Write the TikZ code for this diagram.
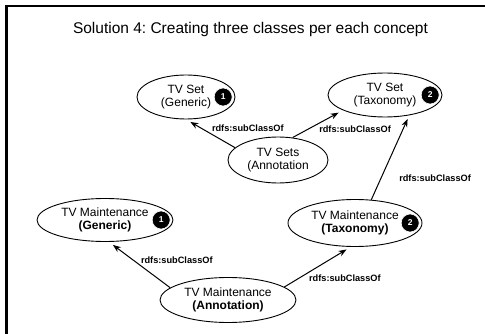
\documentclass[tikz,border=0pt]{standalone}
\usepackage{fontspec}
\setmainfont{Liberation Sans}
\usetikzlibrary{shapes.geometric,arrows.meta,positioning}
\frenchspacing

\begin{document}
\begin{tikzpicture}[x=1pt,y=-1pt,
	concept/.style={ellipse,draw,line width=0.9pt,inner sep=0pt,minimum height=44pt,
		align=center,font=\fontsize{12}{13.5}\selectfont},
	badge/.style={circle,fill=black,draw=white,line width=0.6pt,minimum size=18pt,
		inner sep=0pt,text=white,font=\fontsize{8.5}{8.5}\selectfont\bfseries},
	subcls/.style={line width=1pt,-{Stealth[length=8pt,width=6pt]},shorten >=5pt},
	lbl/.style={font=\fontsize{9.2}{9.2}\selectfont\bfseries,inner sep=1pt}]

	\useasboundingbox (0,0) rectangle (485,334);
	\draw [line width=2.3pt] (6.5,334) -- (6.5,6.2) -- (485,6.2);

	\node [font=\fontsize{15.5}{18}\selectfont,anchor=base] (title) at (250.5,33.5)
		{Solution 4: Creating three classes per each concept};

	\node [concept,minimum width=98pt] (gen) at (186,97) {TV Set\\(Generic)};
	\node [concept,minimum width=114pt] (tax) at (385,95) {TV Set\\(Taxonomy)};
	\node [concept,minimum width=100pt,minimum height=46pt] (sets) at (278,160) {TV Sets\\(Annotation};

	\node [concept,minimum width=136pt,minimum height=43pt] (mgen) at (105,220) {TV Maintenance\\\textbf{(Generic)}};
	\node [concept,minimum width=134pt,minimum height=47pt] (mtax) at (355,223) {TV Maintenance\\\textbf{(Taxonomy)}};
	\node [concept,minimum width=136pt,minimum height=45pt] (mann) at (228,300) {TV Maintenance\\\textbf{(Annotation)}};

	\node [badge,left=3pt of gen.east] (b1) {1};
	\node [badge,left=3pt of tax.east] (b2) {2};
	\node [badge,left=3pt of mgen.east] (b3) {1};
	\node [badge,left=3pt of mtax.east] (b4) {2};

	\draw [subcls] (sets.164) -- (gen.south)
		node [lbl,pos=0.5,anchor=south west] {rdfs:subClassOf};
	\draw [subcls] (sets.57) -- (tax.200)
		node [lbl,pos=0.5,anchor=north west] {rdfs:subClassOf};
	\draw [subcls,shorten >=4pt] (mtax.55) -- (tax.-40)
		node [lbl,pos=0.25,right=17pt] {rdfs:subClassOf};
	\draw [subcls] (mann.168) -- (mgen.-80)
		node [lbl,pos=0.5,anchor=south west] {rdfs:subClassOf};
	\draw [subcls] (mann.13) -- (mtax.-100)
		node [lbl,pos=0.35,anchor=north west] {rdfs:subClassOf};
\end{tikzpicture}
\end{document}
